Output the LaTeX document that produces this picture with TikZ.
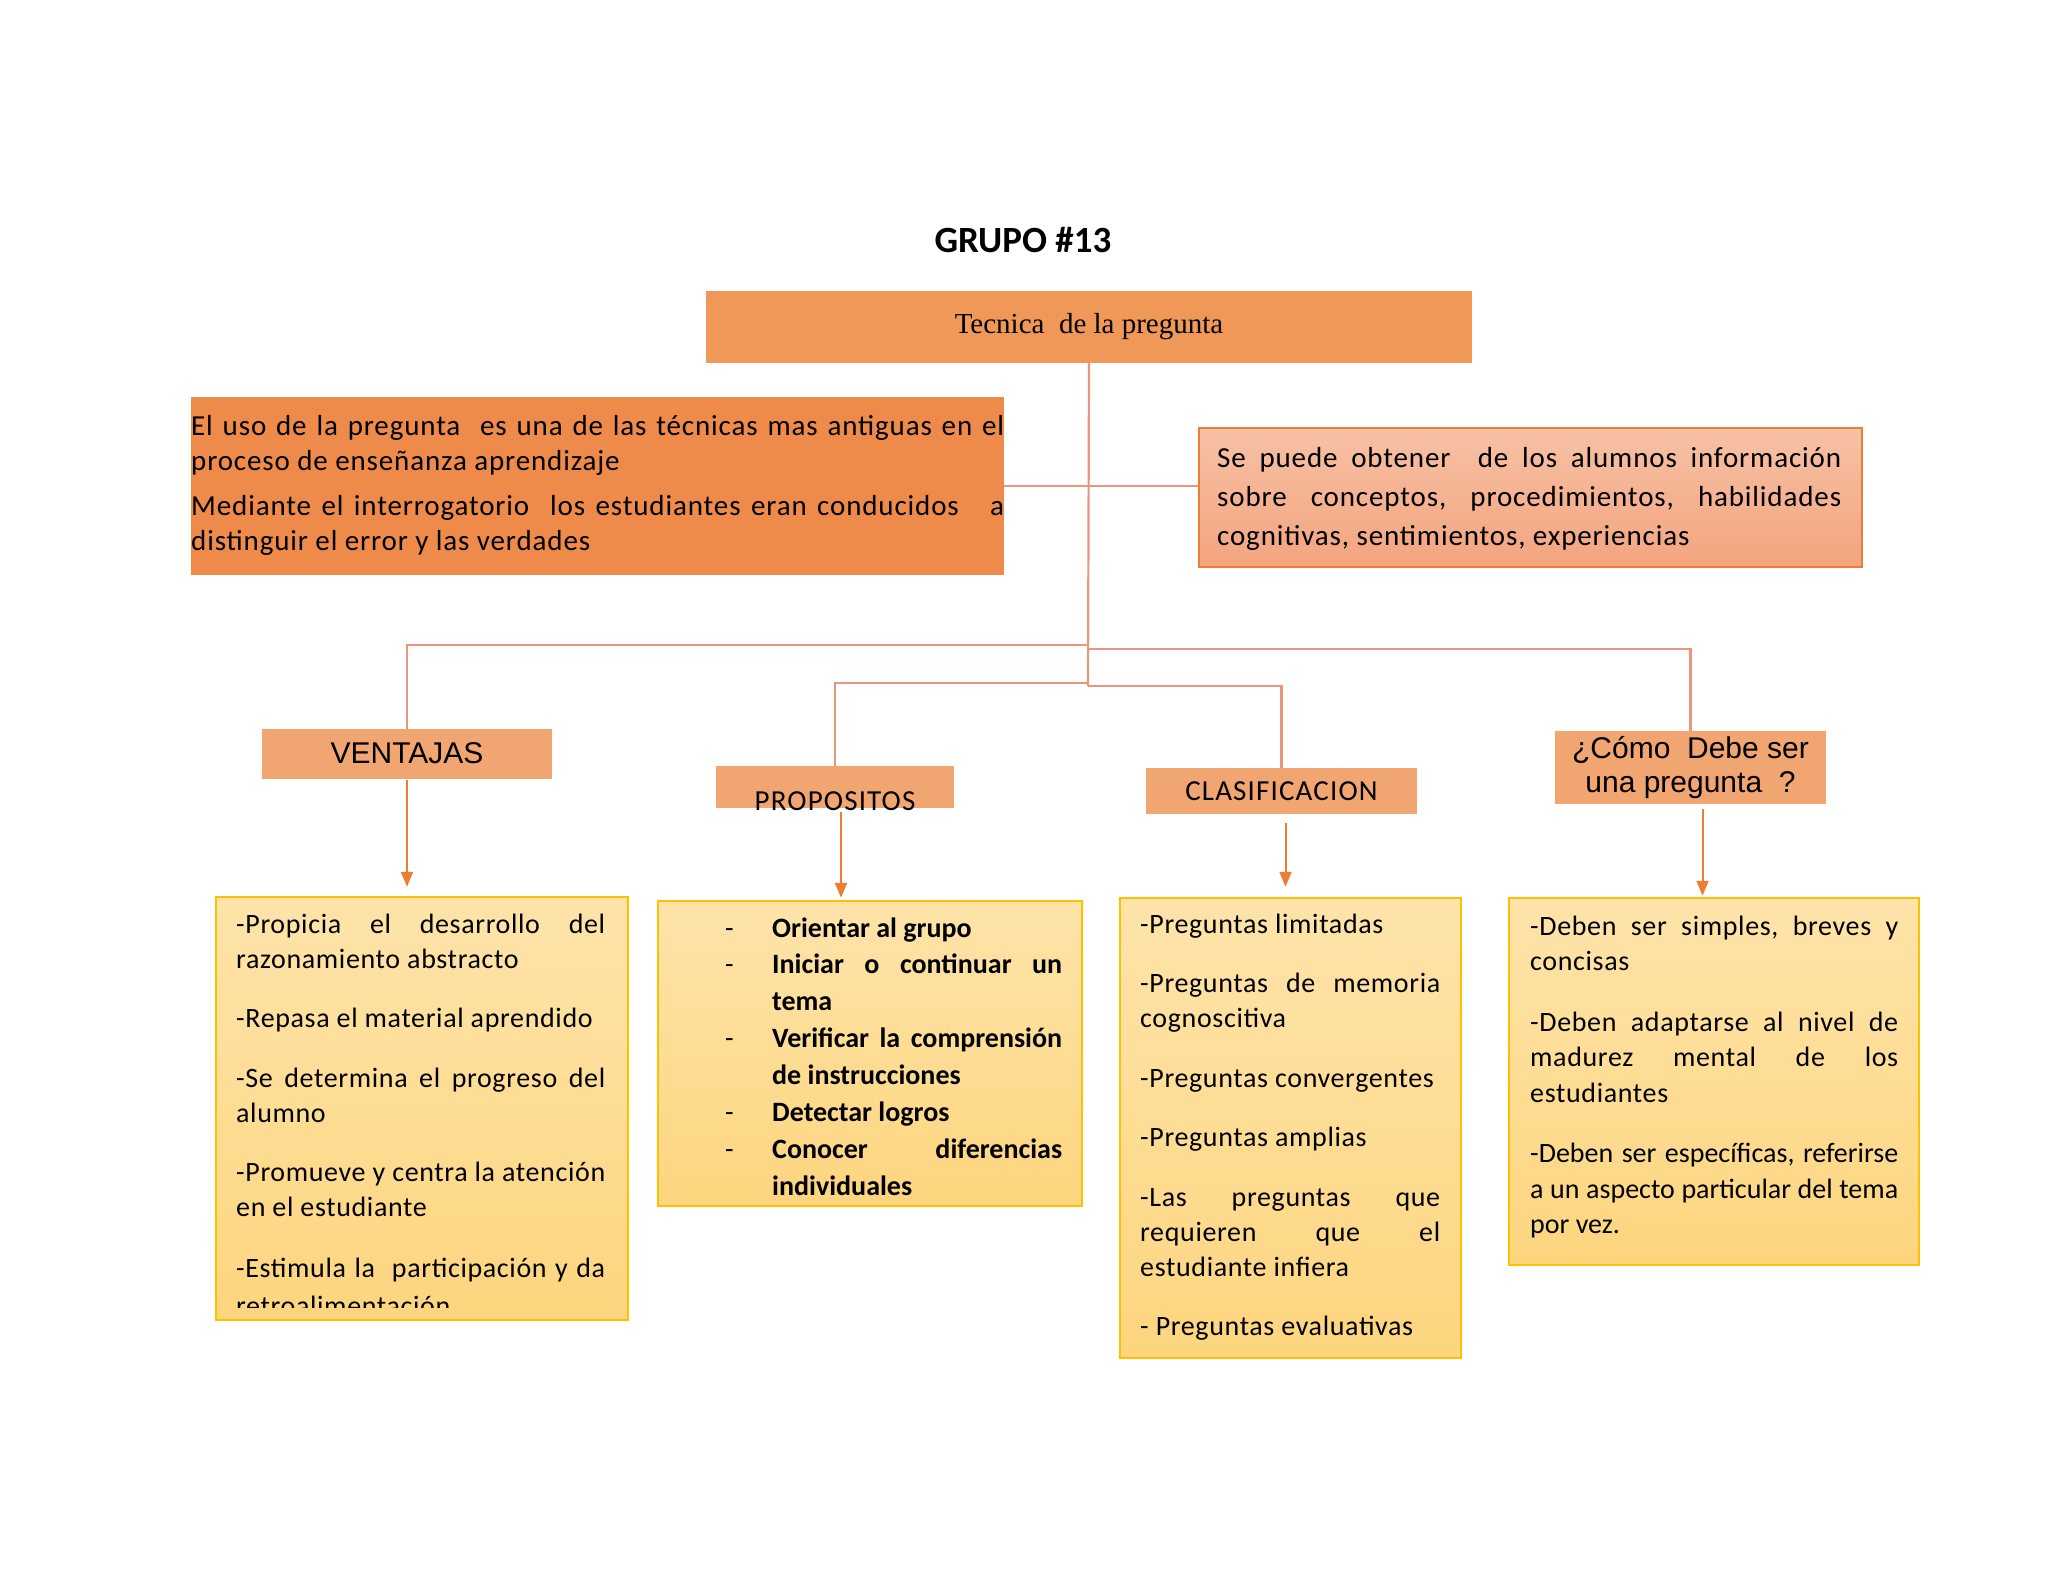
\documentclass[tikz,border=0pt]{standalone}
\usepackage{fontspec}
\setmainfont{Carlito}
\newfontfamily\lbf[LetterSpace=3]{Carlito}
\newfontfamily\bdf[LetterSpace=2.3]{Carlito}
\newfontfamily\hdf[LetterSpace=4]{Carlito}
\newfontfamily\plainf{Carlito}
\newfontfamily\serf{Liberation Serif}
\newfontfamily\sanf{Liberation Sans}
\usetikzlibrary{arrows.meta}
\definecolor{topor}{HTML}{F09858}
\definecolor{leftor}{HTML}{EE8B4A}
\definecolor{rtop}{HTML}{F7C1A5}
\definecolor{rbot}{HTML}{F3A47F}
\definecolor{orb}{HTML}{ED7D31}
\definecolor{hdr}{HTML}{F1A671}
\definecolor{ytop}{HTML}{FEE4AA}
\definecolor{ybot}{HTML}{FDD57E}
\definecolor{ybd}{HTML}{FFC000}
\definecolor{connc}{HTML}{E9977C}
\newcommand\jline[1]{\hbox to \hsize{\spaceskip=.226em plus 1fil\relax #1}}
\newcommand\jlinet[1]{\hbox to \hsize{\spaceskip=.12em plus 1fil\relax #1}}
\newcommand\lline[1]{\hbox{#1}}
\newcommand\txtlines[3]{\vtop{\hsize=#1\relax\baselineskip=#2\relax\lineskip=0pt\lineskiplimit=-1000pt\frenchspacing #3}}
\newcommand\pdash{\hbox to 47pt{\mdseries -\hfil}}
\newcommand\pj[1]{\hbox{\pdash\hbox to 290pt{\spaceskip=.226em plus 1fil\relax #1}}}
\newcommand\pl[1]{\hbox{\pdash#1}}
\newcommand\pc[1]{\hbox{\hbox to 47pt{\hfil}#1}}
\begin{document}
\begin{tikzpicture}[x=1pt,y=-1pt,
  plainbox/.style={inner sep=0pt, draw=none},
  hdrbox/.style={plainbox, fill=hdr},
  ybox/.style={inner sep=0pt, draw=ybd, line width=2.5pt, top color=ytop, bottom color=ybot},
  txt/.style={anchor=base west, inner sep=0pt},
  conn/.style={draw=connc, line width=2.2pt},
  arr/.style={draw=orb, line width=2pt, -{Triangle[length=15pt,width=12pt]}}]
\useasboundingbox[fill=white] (0,0) rectangle (2048,1582);

% title
\node[font=\fontsize{37pt}{44pt}\plainf\bfseries] (title) at (1023,240) {GRUPO \#13};

% main boxes
\node[plainbox, fill=topor, minimum width=766pt, minimum height=72pt,
      font=\fontsize{29pt}{34pt}\serf] (top) at (1089,327) {\raisebox{-2pt}{Tecnica~ de la pregunta}};
\node[plainbox, fill=leftor, minimum width=813pt, minimum height=178pt] (left) at (597.5,486) {};
\node[inner sep=0pt, draw=orb, line width=2pt, top color=rtop, bottom color=rbot,
      minimum width=663pt, minimum height=139pt] (right) at (1530.5,497.5) {};

\node[txt, font=\fontsize{29pt}{35pt}\lbf] (leftt) at (191,435) {\txtlines{813pt}{35pt}{%
\jline{El uso de la pregunta~ es una de las técnicas mas antiguas en el}
\lline{proceso de enseñanza aprendizaje}
\vskip 10pt
\jline{Mediante el interrogatorio~ los estudiantes eran conducidos~~ a}
\lline{distinguir el error y las verdades}}};

\node[txt, font=\fontsize{29pt}{39pt}\lbf] (rightt) at (1217,467) {\txtlines{624pt}{39pt}{%
\jline{Se puede obtener~ de los alumnos información}
\jline{sobre conceptos, procedimientos, habilidades}
\lline{cognitivas, sentimientos, experiencias}}};

% header boxes
\node[hdrbox, minimum width=290pt, minimum height=50pt, font=\fontsize{30pt}{34pt}\sanf] (vent) at (407,754) {\raisebox{2pt}{VENTAJAS}};
\node[hdrbox, minimum width=238pt, minimum height=42pt] (prop) at (835,787) {};
\node[txt, anchor=base, font=\fontsize{29pt}{34pt}\hdf] (propt) at (835,810) {PROPOSITOS};
\node[hdrbox, minimum width=271pt, minimum height=46pt, font=\fontsize{29pt}{34pt}\hdf] (clas) at (1281.5,791) {CLASIFICACION};
\node[hdrbox, minimum width=271pt, minimum height=73pt, align=center, font=\fontsize{30pt}{34pt}\sanf] (como) at (1690.5,767.5) {¿Cómo~ Debe ser\\una pregunta~ ?};

% connectors
\coordinate (ja) at (1088,645);
\coordinate (jb) at (1088,649);
\coordinate (jc) at (1088,683);
\coordinate (jd) at (1088,686);
\draw[conn] (top.south) -- (jd);
\draw[conn] (ja) -| (vent.north);
\draw[conn] (jb) -| (como.north);
\draw[conn] (jc) -| (prop.north);
\draw[conn] (jd) -| (clas.north);
\draw[conn] (left.east) -- (left.east -| right.west);

% content boxes
\node[ybox, minimum width=412pt, minimum height=423pt] (v1) at (422,1108.5) {};
\node[ybox, minimum width=424pt, minimum height=305pt] (p1) at (870,1053.5) {};
\node[ybox, minimum width=341pt, minimum height=460pt] (c1) at (1290.5,1128) {};
\node[ybox, minimum width=410pt, minimum height=367pt] (m1) at (1714,1081.5) {};

% arrows
\draw[arr, shorten <=1pt, shorten >=9pt] (vent.south) -- (vent.south |- v1.north);
\draw[arr, shorten <=4pt, shorten >=2pt] ([xshift=6pt]prop.south) -- ([xshift=6pt]prop.south |- p1.north);
\draw[arr, shorten <=9pt, shorten >=10pt] ([xshift=4pt]clas.south) -- ([xshift=4pt]clas.south |- c1.north);
\draw[arr, shorten <=5pt, shorten >=1pt] ([xshift=12pt]como.south) -- ([xshift=12pt]como.south |- m1.north);

% texts
\begin{scope}
\clip (216,897) rectangle (628,1307);
\node[txt, font=\fontsize{28pt}{35pt}\bdf] (v1t) at (236,933) {\txtlines{369pt}{35pt}{%
\jline{-Propicia el desarrollo del}
\lline{razonamiento abstracto}
\vskip 24.5pt
\lline{-Repasa el material aprendido}
\vskip 24.5pt
\jline{-Se determina el progreso del}
\lline{alumno}
\vskip 24.5pt
\jline{-Promueve y centra la atención}
\lline{en el estudiante}
\vskip 25.5pt
\jline{-Estimula la~ participación y da}
\vskip 3pt
\lline{retroalimentación}}};
\end{scope}

\node[txt, font=\fontsize{28pt}{36.9pt}\plainf\bfseries] (p1t) at (725,937) {\txtlines{337pt}{36.9pt}{%
\pl{Orientar al grupo}
\pj{Iniciar o continuar un}
\pc{tema}
\pj{Verificar la comprensión}
\pc{de instrucciones}
\pl{Detectar logros}
\pj{Conocer diferencias}
\pc{individuales}}};

\node[txt, font=\fontsize{28pt}{35pt}\bdf] (c1t) at (1140,933) {\txtlines{300pt}{35pt}{%
\lline{-Preguntas limitadas}
\vskip 24.5pt
\jline{-Preguntas de memoria}
\lline{cognoscitiva}
\vskip 24.5pt
\lline{-Preguntas convergentes}
\vskip 24.5pt
\lline{-Preguntas amplias}
\vskip 24.5pt
\jline{-Las preguntas que}
\jline{requieren que el}
\lline{estudiante infiera}
\vskip 24.5pt
\lline{- Preguntas evaluativas}}};

\node[txt, font=\fontsize{28pt}{35.5pt}\bdf] (m1t) at (1530,935) {\txtlines{368pt}{35.5pt}{%
\jline{-Deben ser simples, breves y}
\lline{concisas}
\vskip 25pt
\jline{-Deben adaptarse al nivel de}
\jline{madurez mental de los}
\lline{estudiantes}
\vskip 25pt
\plainf
\jlinet{-Deben ser específicas, referirse}
\jlinet{a un aspecto particular del tema}
\lline{por vez.}}};
\end{tikzpicture}
\end{document}
